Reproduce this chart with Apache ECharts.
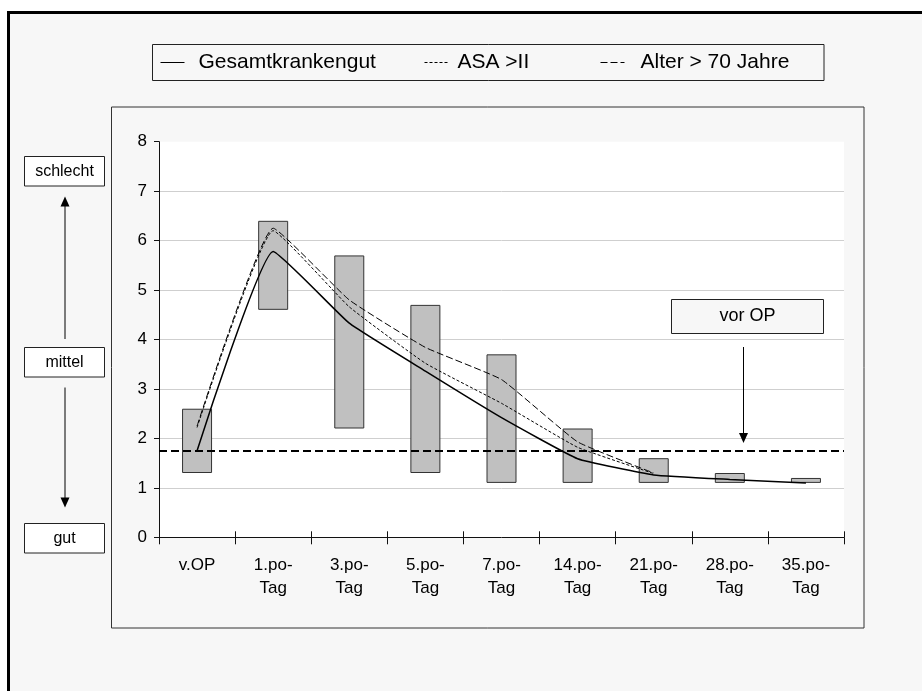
<!DOCTYPE html>
<html>
<head>
<meta charset="utf-8">
<script src="https://cdn.jsdelivr.net/npm/echarts@6/dist/echarts.min.js"></script>
<style>
html,body{margin:0;padding:0;background:#ffffff;}
#chart{width:922px;height:691px;}
</style>
</head>
<body>
<div id="chart"></div>
<script>
// ---- data ----
const categories = ['v.OP', '1.po-\nTag', '3.po-\nTag', '5.po-\nTag', '7.po-\nTag', '14.po-\nTag', '21.po-\nTag', '28.po-\nTag', '35.po-\nTag'];
const barLow  = [1.3, 4.6, 2.2, 1.3, 1.1, 1.1, 1.1, 1.1, 1.1];
const barHigh = [2.6, 6.4, 5.7, 4.7, 3.7, 2.2, 1.6, 1.3, 1.2];
const gesamt  = [1.75, 5.78, 4.33, 3.36, 2.42, 1.59, 1.26, 1.17, 1.10];
const asa     = [2.22, 6.20, 4.66, 3.52, 2.71, 1.82, 1.29, null, null];
const alter   = [2.25, 6.25, 4.80, 3.84, 3.19, 1.93, 1.30, null, null];
const vorOP   = 1.75;
const seriesNames = ['Gesamtkrankengut', 'ASA >II', 'Alter > 70 Jahre'];
const scaleLabels = ['schlecht', 'mittel', 'gut'];
const vorOPLabel = 'vor OP';

const FONT = '"Liberation Sans", Arial, sans-serif';
const rangeVals = barHigh.map((h, i) => +(h - barLow[i]).toFixed(3));

const chart = echarts.init(document.getElementById('chart'), null, {renderer: 'canvas'});

function box(x, y, w, h, text, fs, fill) {
  return [
    {type: 'rect', shape: {x: x, y: y, width: w, height: h}, style: {fill: fill, stroke: '#222', lineWidth: 1}, z: 50},
    {type: 'text', style: {text: text, x: x + w / 2, y: y + h / 2, align: 'center', verticalAlign: 'middle', font: fs + 'px ' + FONT, fill: '#000'}, z: 51}
  ];
}
function vArrow(x, y1, y2) { // from y1 to tip at y2
  const dir = y2 > y1 ? 1 : -1;
  return [
    {type: 'line', shape: {x1: x, y1: y1, x2: x, y2: y2 - dir * 9}, style: {stroke: '#000', lineWidth: 1}, z: 50},
    {type: 'polygon', shape: {points: [[x, y2], [x - 4.5, y2 - dir * 10], [x + 4.5, y2 - dir * 10]]}, style: {fill: '#000'}, z: 50}
  ];
}

const graphics = [].concat(
  [
    {type: 'rect', shape: {x: 8.5, y: 12.5, width: 1000, height: 1000}, style: {fill: '#f7f7f7', stroke: '#000', lineWidth: 3}, z: -100},
    {type: 'rect', shape: {x: 111.5, y: 107, width: 752.5, height: 521}, style: {fill: 'none', stroke: '#333', lineWidth: 1}, z: -50},
    {type: 'rect', shape: {x: 152.5, y: 44.5, width: 671.5, height: 36}, style: {fill: '#f7f7f7', stroke: '#222', lineWidth: 1}, z: -50}
  ],
  box(24.5, 156.5, 80, 29.5, scaleLabels[0], 16, '#ffffff'),
  box(24.5, 347.5, 80, 29.5, scaleLabels[1], 16, '#ffffff'),
  box(24.5, 523.5, 80, 29.5, scaleLabels[2], 16, '#ffffff'),
  vArrow(65, 339, 196.5),
  vArrow(65, 387.5, 507.5),
  box(671.5, 299.5, 152, 34, vorOPLabel, 18, '#f7f7f7'),
  vArrow(743.5, 347, 443)
);

const legendBase = {
  top: 52, padding: 0, itemWidth: 24, itemHeight: 14, selectedMode: false,
  itemStyle: {color: 'rgba(0,0,0,0)', borderWidth: 0, opacity: 0},
  lineStyle: {width: 1}
};

const option = {
  animation: false,
  backgroundColor: 'transparent',
  textStyle: {fontFamily: FONT},
  graphic: graphics,
  legend: [
    Object.assign({}, legendBase, {data: [seriesNames[0]], left: 160, textStyle: {fontSize: 21, color: '#000', fontFamily: FONT, padding: [0, 0, 0, 9]}}),
    Object.assign({}, legendBase, {data: [seriesNames[1]], left: 424, textStyle: {fontSize: 21, color: '#000', fontFamily: FONT, padding: [0, 0, 0, 4]}}),
    Object.assign({}, legendBase, {data: [seriesNames[2]], left: 600, textStyle: {fontSize: 21, color: '#000', fontFamily: FONT, padding: [0, 0, 0, 11]}})
  ],
  grid: {left: 159, top: 141.7, width: 685, height: 395.6, show: true, backgroundColor: '#ffffff', borderWidth: 0, containLabel: false},
  xAxis: [
    {
      type: 'category', data: categories, boundaryGap: true, position: 'bottom',
      axisLine: {show: true, lineStyle: {color: '#111', width: 1}},
      axisTick: {show: true, length: 7, lineStyle: {color: '#111'}},
      axisLabel: {interval: 0, fontSize: 17, lineHeight: 23.5, color: '#000', margin: 16, fontFamily: FONT},
      splitLine: {show: false}
    },
    {
      type: 'category', data: categories, boundaryGap: true, position: 'top', offset: -395.6,
      axisLine: {show: false},
      axisTick: {show: true, length: 6, lineStyle: {color: '#111'}},
      axisLabel: {show: false},
      splitLine: {show: false}
    }
  ],
  yAxis: {
    type: 'value', min: 0, max: 8, interval: 1,
    axisLine: {show: true, lineStyle: {color: '#111', width: 1}},
    axisTick: {show: true, length: 5, lineStyle: {color: '#111'}},
    axisLabel: {fontSize: 17, color: '#000', margin: 12, fontFamily: FONT},
    splitLine: {show: true, showMinLine: false, showMaxLine: false, lineStyle: {color: '#cfcfcf', width: 1}}
  },
  series: [
    {
      name: 'base', type: 'bar', stack: 'range', data: barLow, barWidth: 30, silent: true,
      itemStyle: {color: 'rgba(0,0,0,0)'}, z: 2
    },
    {
      name: 'range', type: 'bar', stack: 'range', data: rangeVals, barWidth: 30, silent: true,
      itemStyle: {color: '#c0c0c0', borderColor: '#333', borderWidth: 1}, z: 2
    },
    {
      name: seriesNames[0], type: 'line', data: gesamt, smooth: 0.12, symbol: 'none', z: 5,
      lineStyle: {color: '#000', width: 1.5, type: 'solid'},
      itemStyle: {color: '#000'},
      markLine: {
        silent: true, symbol: ['none', 'none'], label: {show: false},
        lineStyle: {color: '#000', width: 2, type: [8, 4]},
        data: [{yAxis: vorOP}]
      }
    },
    {
      name: seriesNames[1], type: 'line', data: asa, smooth: 0.12, symbol: 'none', z: 4,
      lineStyle: {color: '#000', width: 1, type: [3, 2]},
      itemStyle: {color: '#000'}
    },
    {
      name: seriesNames[2], type: 'line', data: alter, smooth: 0.12, symbol: 'none', z: 4,
      lineStyle: {color: '#000', width: 1, type: [7, 3]},
      itemStyle: {color: '#000'}
    }
  ]
};
chart.setOption(option);
</script>
</body>
</html>
